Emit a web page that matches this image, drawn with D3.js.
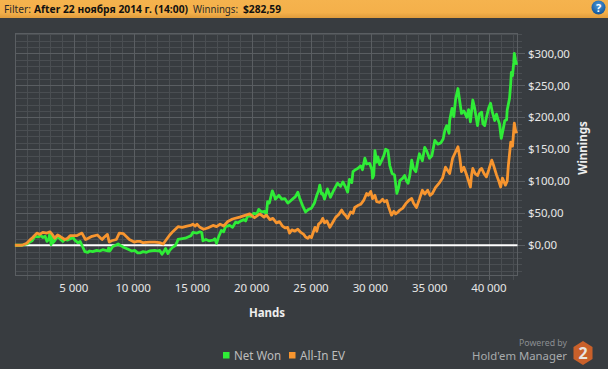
<!DOCTYPE html>
<html><head><meta charset="utf-8">
<script src="https://cdn.jsdelivr.net/npm/d3@7"></script>
<style>
html,body{margin:0;padding:0;background:#383c40;overflow:hidden}
svg{display:block}
text{font-family:"Noto Sans",sans-serif}
</style></head><body>
<script>
const netWonHands=[0,600,1000,1250,1450,1700,1950,2200,2350,2550,2700,2850,2950,3050,3100,3200,3350,3600,3800,4050,4200,4450,4650,4900,5050,5300,5500,5650,5900,6150,6300,6550,6900,7150,7400,7650,7850,7900,8000,8250,8500,8700,8950,9250,9500,9850,10100,10350,10550,10800,11100,11350,11800,12050,12200,12400,12550,12700,12900,13050,13300,13500,13650,13750,14000,14350,14600,14850,15000,15350,15600,15750,15850,16100,16350,16700,16850,17000,17150,17400,17600,17750,18100,18350,18600,18800,19050,19300,19450,19650,19900,20150,20400,20550,20800,21050,21200,21300,21450,21700,21900,21950,22250,22500,22750,23000,23150,23400,23650,23850,24000,24250,24450,24500,24750,25000,25250,25450,25600,25700,25850,25950,26100,26350,26600,26850,27200,27450,27650,27900,28050,28200,28400,28500,28700,28900,29150,29300,29500,29650,29900,30100,30150,30250,30350,30500,30600,30750,30900,31100,31250,31450,31600,31800,32000,32200,32350,32450,32700,32850,33050,33150,33300,33450,33600,33800,33950,34100,34350,34550,34700,34950,35150,35400,35650,35900,36100,36250,36400,36600,36650,36850,37000,37150,37350,37500,37650,37850,38100,38250,38400,38600,38750,39000,39150,39350,39450,39600,39750,39950,40100,40250,40450,40600,40700,40850,41000,41200,41300,41450,41500,41700,41800,41850,41950,42050,42100,42200,42300];
const netWonValues=[0,0,2,5,7,14,13,15,12,14,6,9,20,1,17,4,7,14,10,6,9,8,10,12,8,4,6,0,-10,-11,-9,-10,-8,-9,-7,-8,-9,-4,-9,-2,0,2,-1,-4,-6,-9,-8,-12,-12,-10,-11,-9,-8,-9,-8,-14,-10,-5,-13,-8,-3,-1,4,9,10,11,13,15,20,19,21,20,7,9,7,8,10,3,12,23,21,29,31,28,36,35,38,40,38,47,45,50,49,56,52,53,48,68,66,85,76,72,78,72,73,66,68,72,76,83,74,62,54,52,56,58,66,78,85,94,80,81,72,88,75,85,97,92,99,90,83,103,98,115,118,120,124,118,136,127,128,118,105,109,148,130,138,126,132,140,150,148,125,112,110,81,90,101,105,109,99,97,110,133,120,115,130,143,132,153,148,136,140,164,158,160,166,180,187,175,195,214,201,228,245,225,206,210,200,212,193,227,215,187,205,208,190,187,200,215,222,208,195,205,198,190,167,185,195,196,211,230,253,270,265,285,300,290,282];
const allInHands=[0,600,1000,1250,1500,1850,2100,2350,2700,2950,
3150,3350,3600,3800,4200,4450,4650,5200,5650,5950,
6100,6500,6950,7350,7500,7800,7950,8150,8550,8800,
9150,9650,10050,10300,10550,10800,11350,11800,12200,12500,
13050,13350,13750,14100,14500,14800,15000,15200,15350,15600,
15900,16250,16700,17000,17300,17600,17950,18350,18950,19800,
20200,20650,21000,21200,21500,21750,22050,22300,22550,22800,
23000,23150,23350,23600,23850,24100,24350,24500,24700,24850,
25000,25300,25450,25600,25800,25950,26100,26300,26550,26800,
27050,27300,27550,27700,27900,28050,28300,28500,28650,28900,
29150,29400,29650,29800,30000,30150,30350,30500,30750,31000,
31150,31350,31500,31750,31950,32100,32300,32450,32700,32950,
33200,33450,33600,33850,34100,34350,34550,34800,35000,35200,
35450,35800,36050,36300,36650,36900,37350,37500,37650,37850,
38100,38400,38500,38600,38800,39000,39200,39350,39550,39750,
39950,40200,40350,40600,40800,40950,41100,41350,41500,41600,
41800,41950,42100,42200,42300];
const allInValues=[0,0,3,8,12,19,17,20,19,21,
17,11,16,14,9,11,15,15,19,9,
10,14,16,9,12,17,5,7,9,19,
18,9,5,6,6,4,5,5,4,2,
16,22,29,28,30,31,33,30,33,28,
25,27,31,29,33,30,37,41,44,49,
43,49,44,47,40,42,35,37,30,27,
28,19,24,22,25,20,17,13,11,14,
12,28,22,33,36,42,35,38,28,36,
44,48,55,50,46,42,52,50,59,62,
64,70,81,78,84,73,78,68,67,72,
68,70,60,47,53,49,52,55,58,65,
70,73,66,59,72,86,80,86,78,81,
90,98,105,122,112,136,154,138,115,122,
109,91,110,120,112,109,118,120,112,107,
118,133,125,110,100,91,105,94,100,125,
161,155,191,180,175];
const xMajor=[5000,10000,15000,20000,25000,30000,35000,40000];
const xMinor=d3.range(1000,43000,1000);
const yMajor=[0,50,100,150,200,250,300];
const yMinor=d3.range(-40,331,10);
const legendLabels=["Net Won","All-In EV"];
const seriesColors=["#2fec37","#f7952f"];

const W=608,H=369;
const loc=d3.formatLocale({decimal:",",thousands:"\u00a0",grouping:[3],currency:["$",""]});
const xFmt=loc.format(",d"),yFmt=loc.format("$.2f");
const x=d3.scaleLinear().domain([50,42370]).range([15.5,517.5]);
const y=d3.scaleLinear().domain([-47.3,331]).range([275.5,33.5]);
const svg=d3.select("body").append("svg").attr("width",W).attr("height",H);
const defs=svg.append("defs");
const g1=defs.append("linearGradient").attr("id","hd").attr("x1",0).attr("x2",0).attr("y1",0).attr("y2",1);
g1.append("stop").attr("offset",0).attr("stop-color","#f5b34e");
g1.append("stop").attr("offset",.7).attr("stop-color","#f4b04a");
g1.append("stop").attr("offset",1).attr("stop-color","#e09c3c");
const g2=defs.append("radialGradient").attr("id","qb").attr("cx",.5).attr("cy",.35).attr("r",.7);
g2.append("stop").attr("offset",0).attr("stop-color","#4f9ad8");
g2.append("stop").attr("offset",1).attr("stop-color","#0c4f93");

svg.append("rect").attr("width",W).attr("height",H).attr("fill","#383c40");
svg.append("rect").attr("width",W).attr("height",18).attr("fill","url(#hd)");
const fit="spacingAndGlyphs";
function head(xp,len,bold,t,size){
 svg.append("text").attr("x",xp).attr("y",13).attr("font-size",size).attr("textLength",len).attr("lengthAdjust",fit)
  .attr("font-weight",bold?"bold":"normal").attr("fill",bold?"#111":"#2a2a2a").text(t);
}
head(4,27,false,"Filter:",11);
head(34,154,true,"After 22 ноября 2014 г. (14:00)",10.2);
head(193,45,false,"Winnings:",10.5);
head(243,38,true,"$282,59",10.5);
svg.append("circle").attr("cx",598.5).attr("cy",7.5).attr("r",7).attr("fill","url(#qb)");
svg.append("text").attr("x",598.5).attr("y",11.5).attr("text-anchor","middle").attr("font-size",11).attr("font-weight","bold").attr("fill","#fff").text("?");

// grid
const gridMinor="#4a4e52",gridMajor="#5a5e62";
const gm=svg.append("g").attr("stroke",gridMinor).attr("shape-rendering","crispEdges");
gm.selectAll(".v").data(xMinor).join("line").attr("x1",d=>Math.round(x(d))+.5).attr("x2",d=>Math.round(x(d))+.5).attr("y1",33.5).attr("y2",280);
gm.selectAll(".h").data(yMinor).join("line").attr("y1",d=>Math.round(y(d))+.5).attr("y2",d=>Math.round(y(d))+.5).attr("x1",15.5).attr("x2",522);
const gM=svg.append("g").attr("stroke",gridMajor).attr("shape-rendering","crispEdges");
gM.selectAll(".v").data(xMajor).join("line").attr("x1",d=>Math.round(x(d))+.5).attr("x2",d=>Math.round(x(d))+.5).attr("y1",33.5).attr("y2",280);
gM.selectAll(".h").data(yMajor).join("line").attr("y1",d=>Math.round(y(d))+.5).attr("y2",d=>Math.round(y(d))+.5).attr("x1",15.5).attr("x2",525);
svg.append("rect").attr("x",15.5).attr("y",33.5).attr("width",502).attr("height",242).attr("fill","none").attr("stroke",gridMajor).attr("shape-rendering","crispEdges");

// axes labels
const axX=d3.axisBottom(x).tickValues(xMajor).tickFormat(xFmt).tickSize(0).tickPadding(0);
const gx=svg.append("g").attr("transform","translate(-1,284)").call(axX);
gx.select(".domain").remove();
gx.selectAll("text").attr("font-size",11.5).attr("letter-spacing","-0.1px").attr("fill","#e6e6e6").attr("font-family",'"Noto Sans",sans-serif');
const axY=d3.axisRight(y).tickValues(yMajor).tickFormat(yFmt).tickSize(0).tickPadding(0);
const gy=svg.append("g").attr("transform","translate(528,0)").call(axY);
gy.select(".domain").remove();
gy.selectAll("text").attr("font-size",11.5).attr("letter-spacing","-0.1px").attr("fill","#e6e6e6").attr("font-family",'"Noto Sans",sans-serif');
svg.append("text").attr("x",267).attr("y",317).attr("text-anchor","middle").attr("font-size",11.5).attr("font-weight","bold").attr("fill","#eee").text("Hands");
svg.append("text").attr("transform","translate(587,148) rotate(-90)").attr("text-anchor","middle").attr("font-size",11.5).attr("font-weight","bold").attr("fill","#eee").text("Winnings");

// zero line and series
svg.append("line").attr("x1",15.5).attr("x2",517.5).attr("y1",y(0)).attr("y2",y(0)).attr("stroke","#fff").attr("stroke-width",2);
const line=d3.line().x(d=>x(d[0])).y(d=>y(d[1]));
const allPts=d3.zip(allInHands,allInValues),netPts=d3.zip(netWonHands,netWonValues);
svg.append("path").datum(netPts).attr("d",line).attr("fill","none").attr("stroke",seriesColors[0]).attr("stroke-width",2.8).attr("stroke-linejoin","round");
svg.append("path").datum(allPts).attr("d",line).attr("fill","none").attr("stroke",seriesColors[1]).attr("stroke-width",2.8).attr("stroke-linejoin","round");

// legend
const lgX=[223,289],tx=[234,300],tl=[47,45];
legendLabels.forEach((l,i)=>{
 svg.append("rect").attr("x",lgX[i]).attr("y",352).attr("width",6.5).attr("height",6.5).attr("fill",seriesColors[i]);
 svg.append("text").attr("x",tx[i]).attr("y",360).attr("font-size",12).attr("textLength",tl[i]).attr("lengthAdjust",fit).attr("fill","#bdbdbd").text(l);
});

// logo
svg.append("text").attr("x",519).attr("y",346).attr("font-size",8.8).attr("textLength",48).attr("lengthAdjust",fit).attr("fill","#8b8e91").text("Powered by");
svg.append("text").attr("x",472).attr("y",360).attr("font-size",11.5).attr("textLength",95).attr("lengthAdjust",fit).attr("fill","#a8abad").text("Hold'em Manager");
const hex=d3.range(6).map(i=>{const a=Math.PI/3*i-Math.PI/2;return [583+11*Math.cos(a),353+12*Math.sin(a)];});
svg.append("path").attr("d",d3.line()(hex)+"Z").attr("fill","#c9602a");
svg.append("text").attr("x",583).attr("y",359).attr("text-anchor","middle").attr("font-size",16).attr("font-weight","bold").attr("fill","#e8e4e0").text("2");
</script></body></html>
